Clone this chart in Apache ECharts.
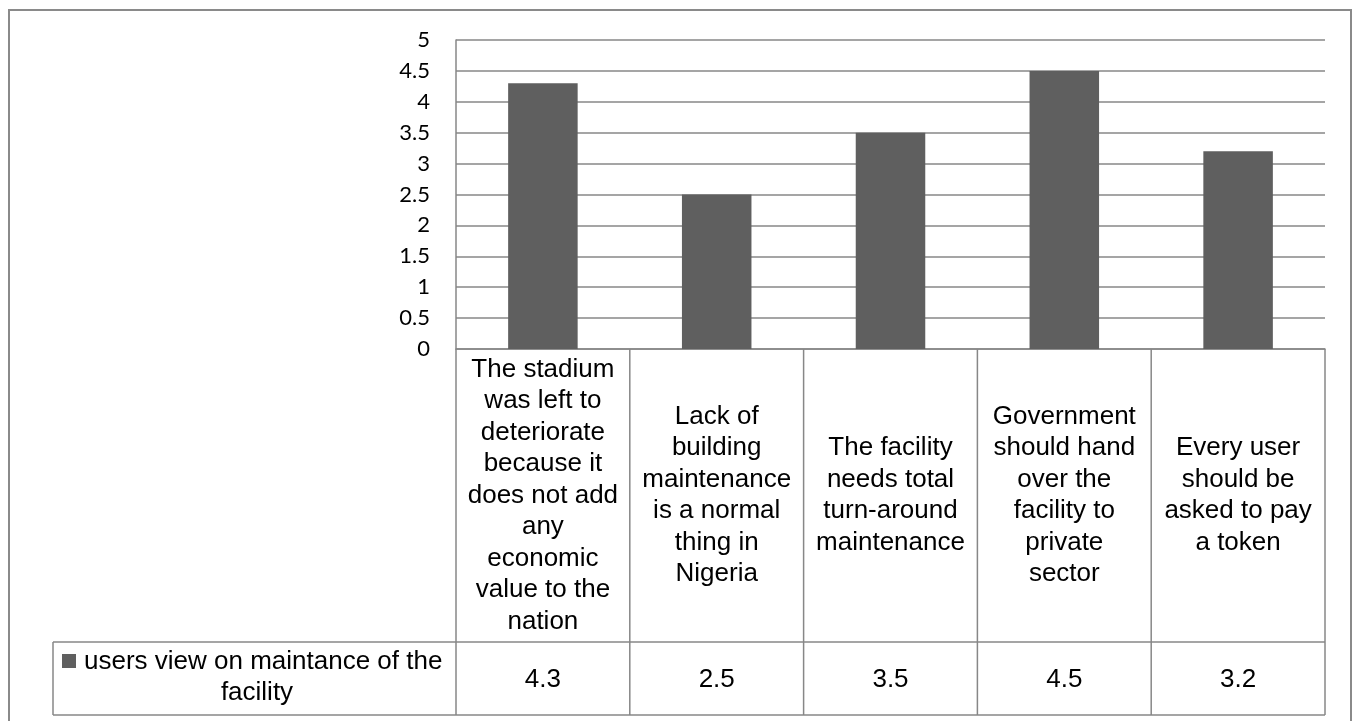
<!DOCTYPE html>
<html>
<head>
<meta charset="utf-8">
<script src="https://cdn.jsdelivr.net/npm/echarts@6/dist/echarts.min.js"></script>
<style>
html,body{margin:0;padding:0;background:#fff;}
#chart{width:1354px;height:721px;}
</style>
</head>
<body>
<div id="chart"></div>
<script>
// ---- data ----
const categories = [
  'The stadium\nwas left to\ndeteriorate\nbecause it\ndoes not add\nany\neconomic\nvalue to the\nnation',
  'Lack of\nbuilding\nmaintenance\nis a normal\nthing in\nNigeria',
  'The facility\nneeds total\nturn-around\nmaintenance',
  'Government\nshould hand\nover the\nfacility to\nprivate\nsector',
  'Every user\nshould be\nasked to pay\na token'
];
const values = [4.3, 2.5, 3.5, 4.5, 3.2];
const seriesName = 'users view on maintance of the facility';
const yTicks = { min: 0, max: 5, interval: 0.5 };

// ---- layout ----
const W = 1354, H = 721;
const gridLeft = 456, gridRight = 1325, gridTop = 40, axisY = 349;
const rowMid = 642, rowBottom = 715, legendLeft = 53;
const lineColor = '#878787';
const barColor = '#5f5f5f';
const tableFont = '"Liberation Sans", Arial, sans-serif';

const chart = echarts.init(document.getElementById('chart'));

const colW = (gridRight - gridLeft) / categories.length;
const graphics = [];
function line(x1, y1, x2, y2) {
  graphics.push({ type: 'line', silent: true, z: 10,
    shape: { x1, y1, x2, y2 }, style: { stroke: lineColor, lineWidth: 1.5 } });
}
// table grid lines
for (let i = 0; i <= categories.length; i++) {
  const x = gridLeft + i * colW;
  line(x, axisY, x, rowBottom);
}
line(legendLeft, rowMid, gridRight, rowMid);
line(legendLeft, rowBottom, gridRight, rowBottom);
line(legendLeft, rowMid, legendLeft, rowBottom);
// outer border
graphics.push({ type: 'rect', silent: true, shape: { x: 9, y: 10, width: 1342, height: 730 },
  style: { fill: 'none', stroke: '#8a8a8a', lineWidth: 2 } });
// legend in table row
const words = seriesName.split(' ');
const legendLine1 = words.slice(0, -1).join(' ');
const legendLine2 = words[words.length - 1];
graphics.push({ type: 'rect', silent: true, shape: { x: 62, y: 654, width: 14, height: 14 },
  style: { fill: barColor } });
graphics.push({ type: 'text', silent: true, x: 84, y: 662,
  style: { text: legendLine1, font: '26px ' + tableFont, fill: '#000', textAlign: 'left', textVerticalAlign: 'middle' } });
graphics.push({ type: 'text', silent: true, x: 257, y: 693,
  style: { text: legendLine2, font: '26px ' + tableFont, fill: '#000', textAlign: 'center', textVerticalAlign: 'middle' } });

const option = {
  animation: false,
  backgroundColor: '#fff',
  grid: { left: gridLeft, right: W - gridRight, top: gridTop, bottom: H - axisY, containLabel: false, outerBoundsMode: 'none' },
  xAxis: [
    {
      type: 'category', data: categories,
      axisLine: { show: true, lineStyle: { color: lineColor, width: 1.5 } },
      axisTick: { show: false },
      axisLabel: { interval: 0, margin: (rowMid + axisY) / 2 - axisY, verticalAlign: 'middle', align: 'center',
        fontSize: 26, lineHeight: 31.5, fontFamily: tableFont, color: '#000' },
      splitLine: { show: false }
    },
    {
      type: 'category', data: values.map(v => v.toFixed(1)), position: 'bottom', gridIndex: 0,
      axisLine: { show: false }, axisTick: { show: false },
      axisLabel: { interval: 0, margin: (rowMid + rowBottom) / 2 - axisY + 1, verticalAlign: 'middle', align: 'center',
        fontSize: 26, fontFamily: tableFont, color: '#000' }
    }
  ],
  yAxis: {
    type: 'value', min: yTicks.min, max: yTicks.max, interval: yTicks.interval,
    axisLine: { show: true, lineStyle: { color: lineColor, width: 1.5 } },
    axisTick: { show: false },
    axisLabel: { margin: 26, fontSize: 22, fontFamily: 'Lato, "Open Sans", sans-serif', color: '#000' },
    splitLine: { show: true, lineStyle: { color: lineColor, width: 1.5 } }
  },
  series: [{
    name: seriesName, type: 'bar', data: values, barWidth: '40%', xAxisIndex: 0,
    itemStyle: { color: barColor }
  }],
  graphic: graphics
};
chart.setOption(option);
</script>
</body>
</html>
